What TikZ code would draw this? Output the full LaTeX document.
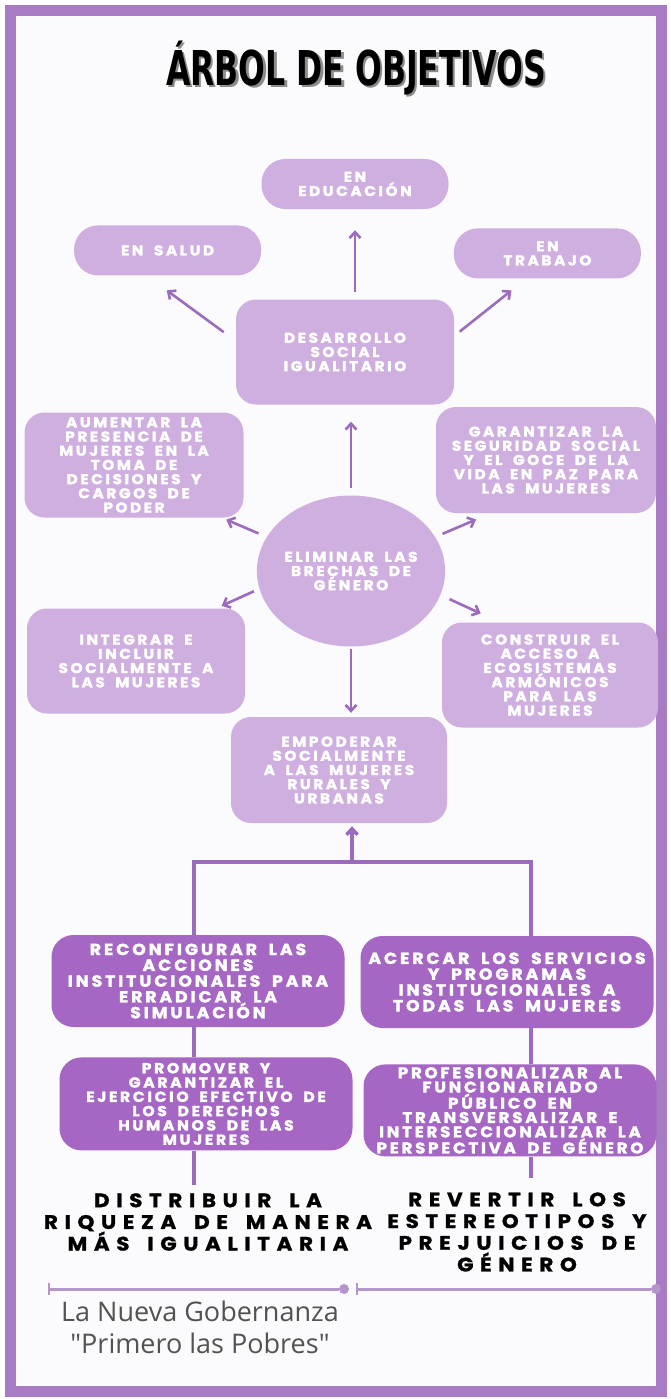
\documentclass[tikz,border=0pt]{standalone}
\usepackage{fontspec}
\newfontfamily\cajafont[LetterSpace=18,WordSpace=1.8,FakeStretch=1.08,FakeBold=2]{Poppins}
\newfontfamily\metafont[LetterSpace=34,WordSpace=1.6,FakeStretch=1.1,FakeBold=1.2]{Poppins}
\newfontfamily\titulofont[FakeStretch=0.73]{DejaVu Sans Condensed}
\newfontfamily\piefont{Open Sans}
\usetikzlibrary{arrows.meta,positioning,shapes.geometric}
\definecolor{lila}{HTML}{CFAEE0}
\definecolor{morado}{HTML}{A567C3}
\definecolor{trazo}{HTML}{9B6CBD}
\definecolor{marco}{HTML}{A87CC4}
\definecolor{linea}{HTML}{B596CC}
\definecolor{fondo}{HTML}{FBFAFC}

\begin{document}
\begin{tikzpicture}[
  x=1pt,y=-1pt,
  caja/.style={fill=lila,text=white,rounded corners=20pt,align=center,inner sep=0pt,minimum width=218pt,minimum height=105pt,font=\cajafont\bfseries\fontsize{14.2}{14.2}\selectfont},
  pildora/.style={caja,rounded corners=24pt,minimum width=187pt,minimum height=50pt},
  oscura/.style={caja,fill=morado,rounded corners=22pt,minimum width=293pt,minimum height=92pt,font=\cajafont\bfseries\fontsize{16}{15.8}\selectfont},
  meta/.style={align=center,inner sep=0pt,font=\metafont\bfseries\fontsize{19.5}{21.7}\selectfont},
  flecha/.style={draw=trazo,line width=2.6pt,-{Straight Barb[length=6pt,width=11pt]}},
  rama/.style={draw=trazo,line width=3.5pt},
  punto/.style={circle,fill=linea,inner sep=0pt,minimum size=10pt}
]
  \useasboundingbox (0,0) rectangle (670,1399);
  \fill[white] (0,0) rectangle (670,1399);
  \draw[marco,line width=11pt,fill=fondo] (10,11) rectangle (661,1391);

  \node[text=black!45,font=\titulofont\bfseries\fontsize{48}{48}\selectfont] (sombra) at (358.5,70.5) {ÁRBOL DE OBJETIVOS};
  \node[font=\titulofont\bfseries\fontsize{48}{48}\selectfont] (titulo) at (356,68) {ÁRBOL DE OBJETIVOS};

  \node[pildora] (educacion) at (355,184) {EN\\EDUCACIÓN};
  \node[pildora,below left=16pt and 0pt of educacion] (salud) {EN SALUD};
  \node[pildora,below right=19pt and 5pt of educacion] (trabajo) {EN\\TRABAJO};
  \node[caja] (desarrollo) at (345,352) {DESARROLLO\\SOCIAL\\IGUALITARIO};

  \node[caja,minimum width=219pt] (aumentar) at (134,465) {AUMENTAR LA\\PRESENCIA DE\\MUJERES EN LA\\TOMA DE\\DECISIONES Y\\CARGOS DE\\PODER};
  \node[caja,minimum width=220pt,minimum height=106pt] (garantizar) at (546,460) {GARANTIZAR LA\\SEGURIDAD SOCIAL\\Y EL GOCE DE LA\\VIDA EN PAZ PARA\\LAS MUJERES};
  \node[caja,ellipse,minimum width=169pt,minimum height=151pt] (eliminar) at (351,571) {ELIMINAR LAS\\BRECHAS DE\\GÉNERO};
  \node[caja] (integrar) at (136,661) {INTEGRAR E\\INCLUIR\\SOCIALMENTE A\\LAS MUJERES};
  \node[caja,minimum width=216pt] (construir) at (550,675) {CONSTRUIR EL\\ACCESO A\\ECOSISTEMAS\\ARMÓNICOS\\PARA LAS\\MUJERES};
  \node[caja,minimum width=216pt,minimum height=106pt] (empoderar) at (339,770) {EMPODERAR\\SOCIALMENTE\\A LAS MUJERES\\RURALES Y\\URBANAS};

  \node[oscura] (reconfigurar) at (198,981) {RECONFIGURAR LAS\\ACCIONES\\INSTITUCIONALES PARA\\ERRADICAR LA\\SIMULACIÓN};
  \node[oscura] (acercar) at (507,982) {ACERCAR LOS SERVICIOS\\Y PROGRAMAS\\INSTITUCIONALES A\\TODAS LAS MUJERES};
  \node[oscura,minimum height=93pt,below=30pt of reconfigurar,xshift=8pt,font=\cajafont\bfseries\fontsize{14.5}{14.3}\selectfont] (promover) {PROMOVER Y\\GARANTIZAR EL\\EJERCICIO EFECTIVO DE\\LOS DERECHOS\\HUMANOS DE LAS\\MUJERES};
  \node[oscura,below=36pt of acercar,xshift=3pt,font=\cajafont\bfseries\fontsize{15.4}{14.3}\selectfont] (profesionalizar) {PROFESIONALIZAR AL\\FUNCIONARIADO\\PÚBLICO EN\\TRANSVERSALIZAR E\\INTERSECCIONALIZAR LA\\PERSPECTIVA DE GÉNERO};

  \node[meta] (distribuir) at (208,1222) {DISTRIBUIR LA\\RIQUEZA DE MANERA\\MÁS IGUALITARIA};
  \node[meta] (revertir) at (517,1232) {REVERTIR LOS\\ESTEREOTIPOS Y\\PREJUICIOS DE\\GÉNERO};

  \draw[flecha,shorten <=7pt,shorten >=21pt] (desarrollo.north -| educacion) -- (educacion.south);
  \draw[flecha,shorten <=15pt,shorten >=25pt] ([yshift=11pt]desarrollo.west) -- ([xshift=-21pt]salud.south);
  \draw[flecha,shorten <=7pt,shorten >=19pt] ([yshift=16pt]desarrollo.east) -- ([xshift=-21pt]trabajo.south);

  \draw[flecha,shorten <=7pt,shorten >=17pt] (eliminar.north) -- (eliminar.north |- desarrollo.south);
  \draw[flecha,shorten <=9pt,shorten >=5pt] (eliminar.158) -- ([xshift=-22pt]aumentar.south east);
  \draw[flecha,shorten <=8pt,shorten >=16pt] (eliminar.22) -- ([xshift=55pt]garantizar.south west);
  \draw[flecha,shorten <=6pt,shorten >=6pt] (eliminar.191) -- ([xshift=-29pt]integrar.north east);
  \draw[flecha,shorten <=10pt,shorten >=21pt] (eliminar.345) -- ([xshift=58pt]construir.north west);
  \draw[flecha,shorten <=2pt,shorten >=4pt] (eliminar.south) -- (eliminar.south |- empoderar.north);

  \coordinate (union) at (352,862);
  \coordinate (izq) at (194,862);
  \coordinate (der) at (531,862);
  \draw[rama] (izq |- reconfigurar.north) -- (izq) -- (der) -- (der |- acercar.north);
  \draw[flecha,line width=3.5pt,shorten >=3pt] (union) -- (union |- empoderar.south);
  \draw[rama] (izq |- reconfigurar.south) -- (izq |- promover.north);
  \draw[rama] (der |- acercar.south) -- (der |- profesionalizar.north);
  \draw[rama,shorten >=8pt] (izq |- promover.south) -- (izq |- distribuir.north);
  \draw[rama,shorten >=14pt] (der |- profesionalizar.south) -- (der |- revertir.north);

  \coordinate (inicio1) at (49,1289);
  \node[punto] (fin1) at (344,1289) {};
  \coordinate (inicio2) at (357,1289);
  \node[punto] (fin2) at (656,1289) {};
  \draw[linea,line width=3pt] (inicio1) -- (fin1);
  \draw[linea,line width=3pt] (inicio2) -- (fin2);
  \draw[linea,line width=2.5pt] ([yshift=6pt]inicio1) -- ([yshift=-6pt]inicio1);
  \draw[linea,line width=2.5pt] ([yshift=6pt]inicio2) -- ([yshift=-6pt]inicio2);

  \node[align=center,text=black!68,font=\piefont\fontsize{27}{32}\selectfont] (gobernanza) at (200,1327) {La Nueva Gobernanza\\"Primero las Pobres"};
\end{tikzpicture}
\end{document}
